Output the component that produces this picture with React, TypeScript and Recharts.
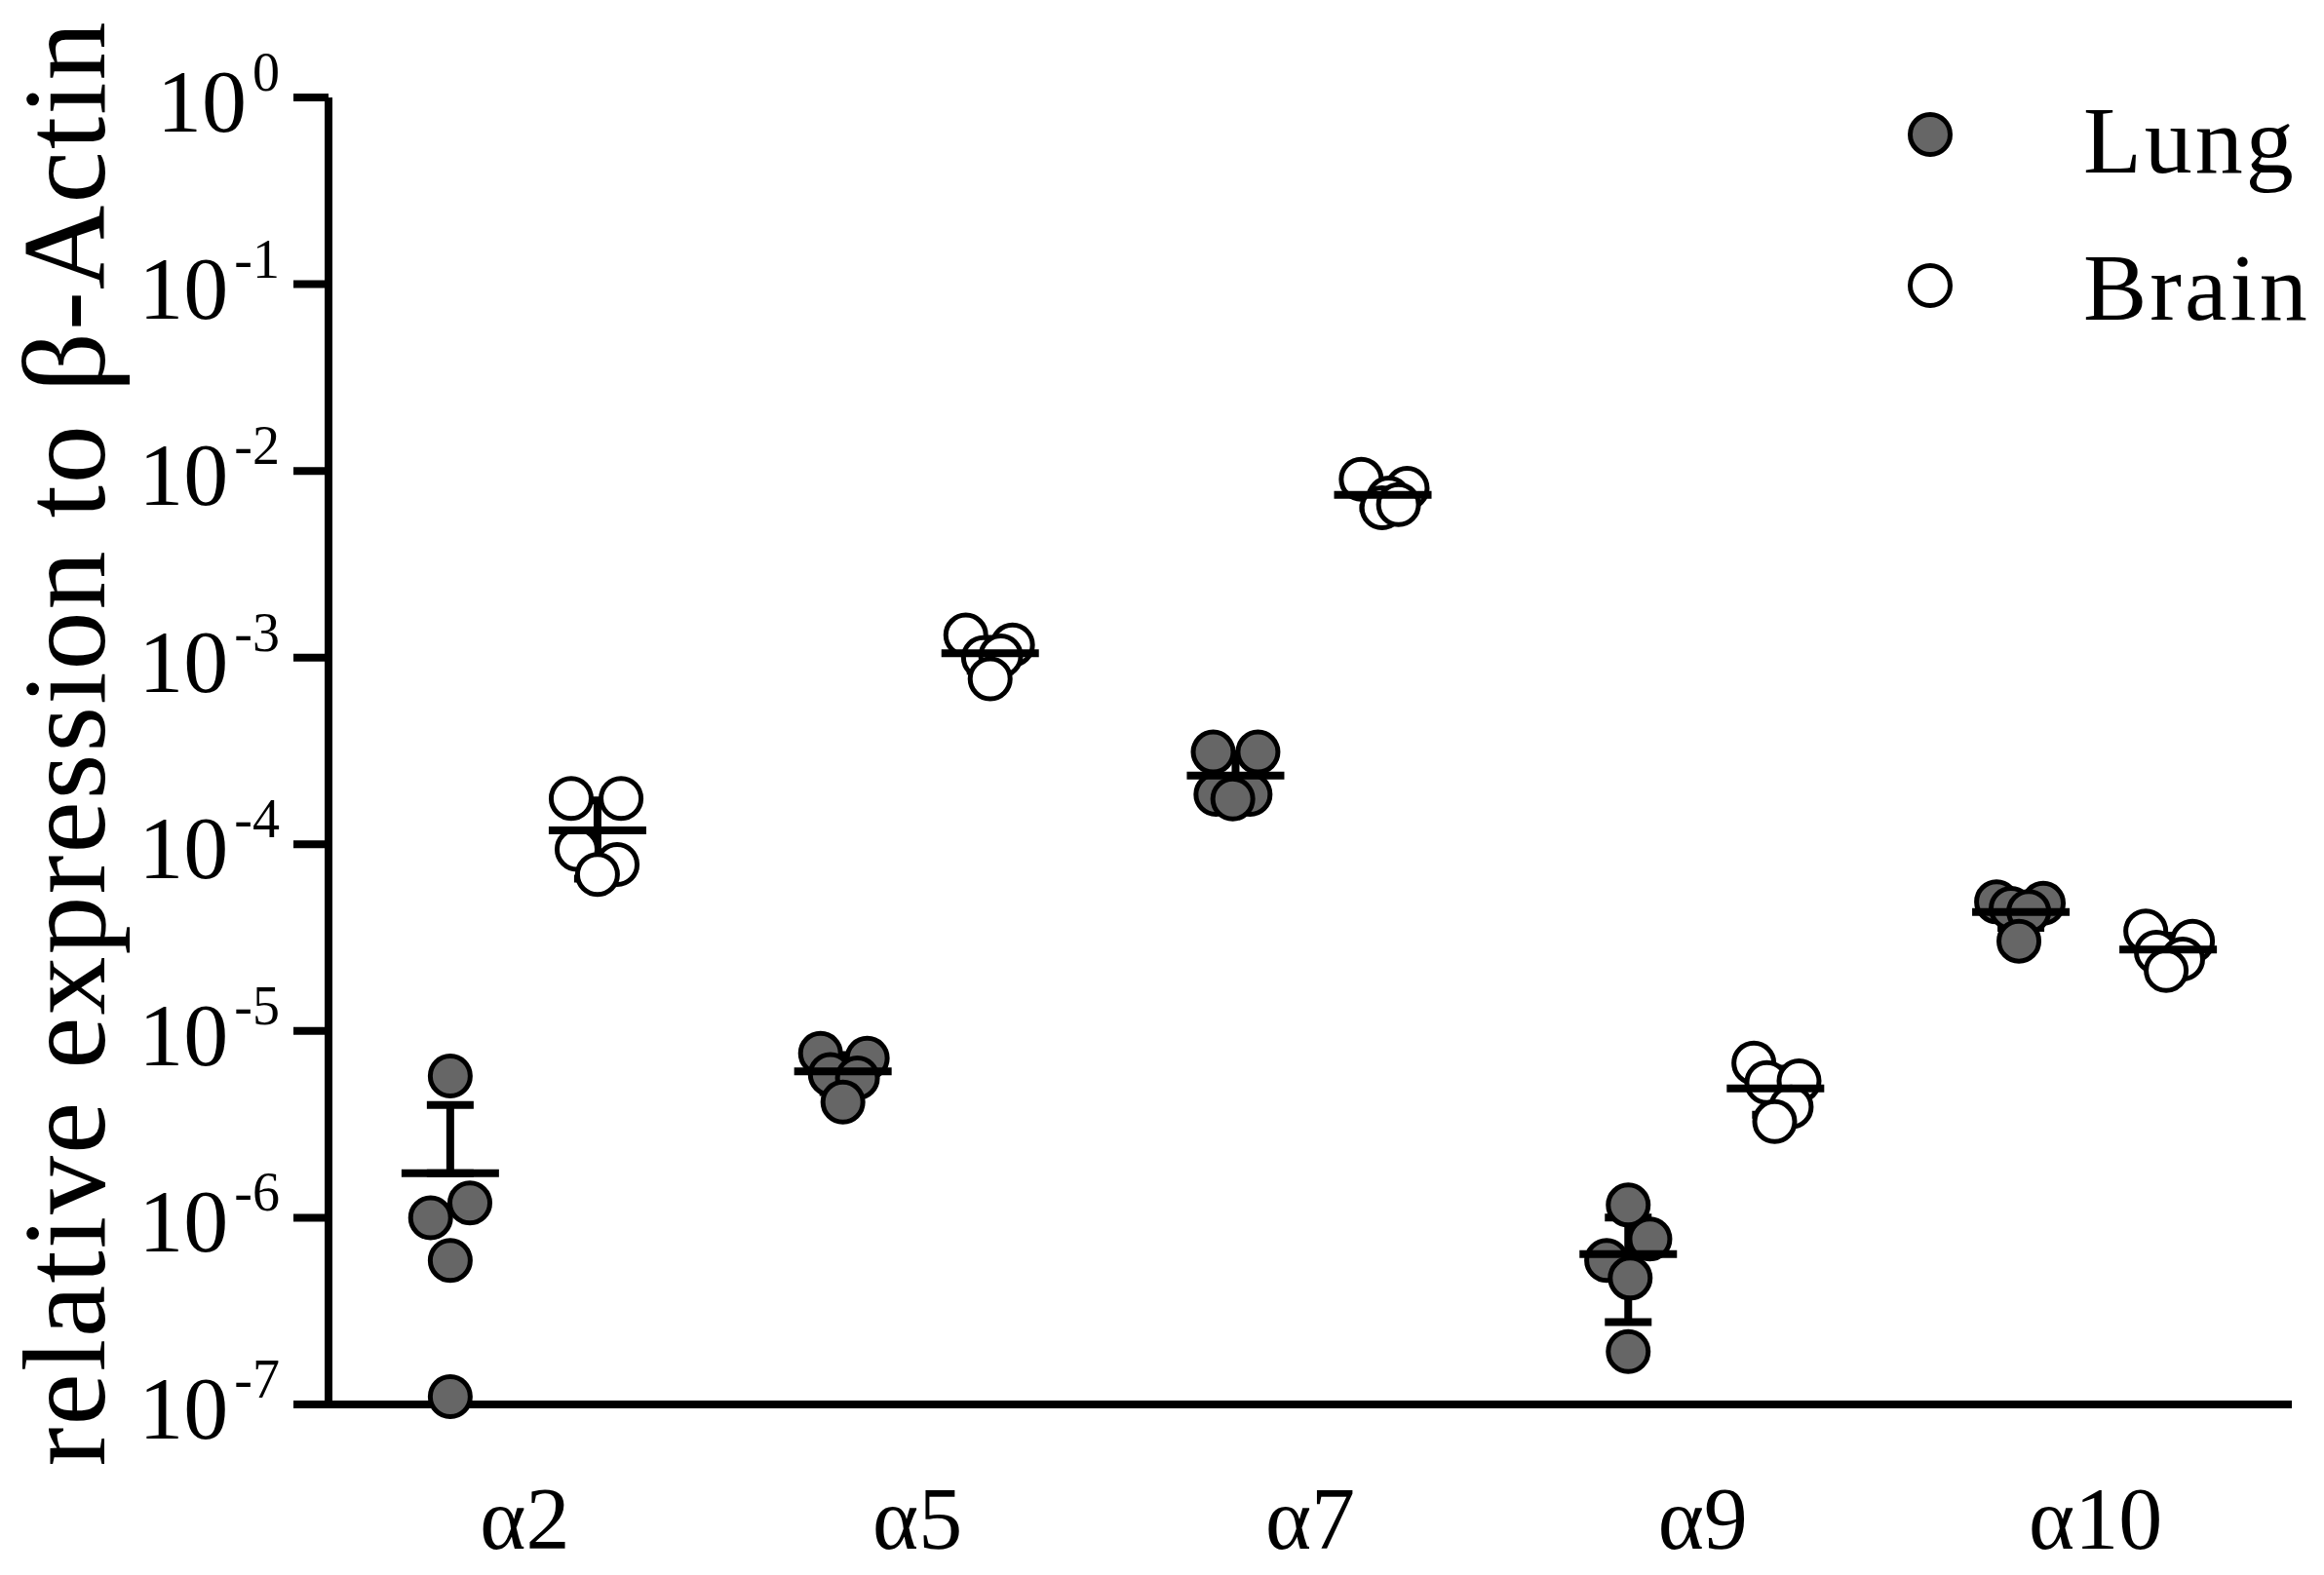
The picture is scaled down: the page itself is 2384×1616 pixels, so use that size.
import React from 'react';
import { ScatterChart, Scatter, XAxis, YAxis, ErrorBar, Legend, Label } from 'recharts';

const categories = ['α2', 'α5', 'α7', 'α9', 'α10'];
const seriesNames = ['Lung', 'Brain'];

const lungValues: number[][] = [
  [5.75e-6, 1.2e-6, 1.0e-6, 5.9e-7, 1.1e-7],
  [7.6e-6, 7.15e-6, 5.85e-6, 5.6e-6, 4.16e-6],
  [3.12e-4, 3.12e-4, 1.85e-4, 1.85e-4, 1.75e-4],
  [1.17e-6, 7.7e-7, 5.9e-7, 4.75e-7, 1.92e-7],
  [4.92e-5, 4.83e-5, 4.54e-5, 4.36e-5, 3.03e-5],
];

const brainValues: number[][] = [
  [1.76e-4, 1.76e-4, 9.4e-5, 7.8e-5, 6.9e-5],
  [1.32e-3, 1.17e-3, 1.0e-3, 1.02e-3, 7.7e-4],
  [9.03e-3, 8.07e-3, 7.16e-3, 6.34e-3, 6.6e-3],
  [6.73e-6, 5.3e-6, 5.4e-6, 3.92e-6, 3.27e-6],
  [3.43e-5, 3.03e-5, 2.64e-5, 2.43e-5, 2.11e-5],
];

// horizontal scatter (jitter) of each replicate, in category units
const lungJitter: number[][] = [
  [0, 0.05, -0.05, 0, 0],
  [-0.057, 0.062, -0.032, 0.037, 0],
  [-0.057, 0.057, -0.05, 0.037, -0.007],
  [0, 0.055, -0.055, 0.005, 0],
  [-0.062, 0.057, -0.025, 0.02, -0.005],
];

const brainJitter: number[][] = [
  [-0.067, 0.06, -0.052, 0.05, 0],
  [-0.062, 0.057, -0.017, 0.027, 0],
  [-0.055, 0.062, 0.015, -0.002, 0.04],
  [-0.055, -0.022, 0.06, 0.04, -0.002],
  [-0.057, 0.062, -0.03, 0.037, -0.005],
];

const yTicks = [1e-7, 1e-6, 1e-5, 1e-4, 1e-3, 1e-2, 1e-1, 1];
const xTicks = [0.5, 1.5, 2.5, 3.5, 4.5];

const LUNG_POS = 0.31;
const BRAIN_POS = 0.685;
const FONT = "'Liberation Serif', 'Times New Roman', serif";
const LUNG_FILL = '#666666';
const BRAIN_FILL = '#ffffff';
const LINE_W = 8;

const makePoints = (vals: number[][], jit: number[][], base: number) =>
  vals.flatMap((arr, i) => arr.map((v, j) => ({ x: i + base + jit[i][j], y: v })));

const makeStats = (vals: number[][], base: number) =>
  vals.map((arr, i) => {
    const n = arr.length;
    const mean = arr.reduce((a, b) => a + b, 0) / n;
    const sd = Math.sqrt(arr.reduce((a, b) => a + (b - mean) * (b - mean), 0) / (n - 1));
    const low = mean - sd > 0 ? sd : 0;
    return { x: i + base, y: mean, err: [low, sd] };
  });

const lungPoints = makePoints(lungValues, lungJitter, LUNG_POS);
const brainPoints = makePoints(brainValues, brainJitter, BRAIN_POS);
const lungStats = makeStats(lungValues, LUNG_POS);
const brainStats = makeStats(brainValues, BRAIN_POS);

const dot = (fill: string) => (props: any) => {
  const { cx, cy } = props;
  if (cx == null || cy == null) return <g />;
  return <circle cx={cx} cy={cy} r={20.5} fill={fill} stroke="#000" strokeWidth={5} />;
};

const meanLine = (props: any) => {
  const { cx, cy } = props;
  if (cx == null || cy == null) return <g />;
  return <line x1={cx - 50} x2={cx + 50} y1={cy} y2={cy} stroke="#000" strokeWidth={LINE_W} />;
};

const YTick = (props: any) => {
  const { x, y, payload } = props;
  const exp = Math.round(Math.log10(payload.value));
  const expStr = exp === 0 ? '0' : `-${Math.abs(exp)}`;
  return (
    <text x={x} y={y + 35} textAnchor="end" fontFamily={FONT} fontSize={92} fill="#000">
      <tspan>10</tspan>
      <tspan dx={6} dy={-42} fontSize={56}>{expStr}</tspan>
    </text>
  );
};

const XTick = (props: any) => {
  const { x, y, payload } = props;
  const idx = Math.floor(payload.value);
  return (
    <text x={x} y={y + 148} textAnchor="middle" fontFamily={FONT} fontSize={90} fill="#000">
      {categories[idx]}
    </text>
  );
};

const YLabel = (props: any) => {
  const vb = props.viewBox || { x: 0, y: 0, width: 0, height: 0 };
  const x = vb.x + 107;
  const y = vb.y + vb.height / 2 - 8;
  return (
    <text
      x={x}
      y={y}
      transform={`rotate(-90, ${x}, ${y})`}
      textAnchor="middle"
      fontFamily={FONT}
      fontSize={120}
      letterSpacing={2}
      fill="#000"
    >
      relative expression to β-Actin
    </text>
  );
};

const fills: Record<string, string> = { Lung: LUNG_FILL, Brain: BRAIN_FILL };

const renderLegend = (props: any) => {
  const payload = (props.payload || [])
    .filter((p: any) => seriesNames.includes(p.value))
    .sort((a: any, b: any) => seriesNames.indexOf(a.value) - seriesNames.indexOf(b.value));
  return (
    <svg width={440} height={300}>
      {payload.map((p: any, i: number) => (
        <g key={p.value}>
          <circle cx={41} cy={58 + i * 155} r={20.5} fill={fills[p.value] || '#fff'} stroke="#000" strokeWidth={5} />
          <text x={198} y={97 + i * 151} fontFamily={FONT} fontSize={98} letterSpacing={3} fill="#000">
            {p.value}
          </text>
        </g>
      ))}
    </svg>
  );
};

export default function App() {
  return (
    <div style={{ position: 'absolute', left: 0, top: 0, background: '#fff' }}>
      <ScatterChart width={2384} height={1616} margin={{ top: 100, right: 33, bottom: 0, left: 0 }}>
        <XAxis
          type="number"
          dataKey="x"
          domain={[0, 5]}
          ticks={xTicks}
          interval={0}
          tick={<XTick />}
          tickLine={false}
          tickSize={0}
          tickMargin={0}
          height={175}
          axisLine={{ stroke: '#000', strokeWidth: LINE_W }}
        />
        <YAxis
          type="number"
          dataKey="y"
          scale="log"
          domain={[1e-7, 1]}
          ticks={yTicks}
          interval={0}
          width={337}
          tick={<YTick />}
          tickSize={36}
          tickMargin={14}
          tickLine={{ stroke: '#000', strokeWidth: LINE_W }}
          axisLine={{ stroke: '#000', strokeWidth: LINE_W }}
        >
          <Label content={<YLabel />} />
        </YAxis>
        <Legend
          layout="vertical"
          align="center"
          verticalAlign="middle"
          content={renderLegend}
          wrapperStyle={{ position: 'absolute', left: 1939, top: 80, width: 440, height: 300 }}
        />
        <Scatter name="Lung" data={lungPoints} fill={LUNG_FILL} shape={dot(LUNG_FILL)} isAnimationActive={false} />
        <Scatter name="Brain" data={brainPoints} fill={BRAIN_FILL} shape={dot(BRAIN_FILL)} isAnimationActive={false} />
        <Scatter name="LungMean" data={lungStats} legendType="none" shape={meanLine} isAnimationActive={false}>
          <ErrorBar dataKey="err" direction="y" width={24} stroke="#000" strokeWidth={LINE_W} isAnimationActive={false} />
        </Scatter>
        <Scatter name="BrainMean" data={brainStats} legendType="none" shape={meanLine} isAnimationActive={false}>
          <ErrorBar dataKey="err" direction="y" width={24} stroke="#000" strokeWidth={LINE_W} isAnimationActive={false} />
        </Scatter>
      </ScatterChart>
    </div>
  );
}
